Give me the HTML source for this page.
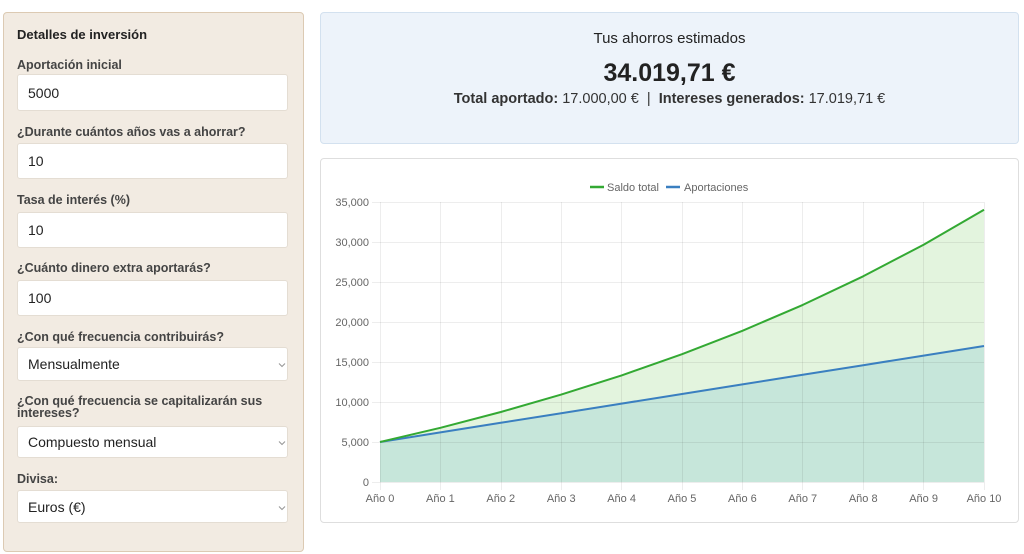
<!DOCTYPE html>
<html>
<head>
<meta charset="utf-8">
<style>
  html,body{margin:0;padding:0;background:#fff;}
  body{width:1024px;height:554px;position:relative;overflow:hidden;font-family:"Liberation Sans",Arial,sans-serif;}
  .panel{position:absolute;left:3px;top:12px;width:299px;height:538px;background:#f2ebe2;border:1px solid #dccab3;border-radius:4px;}
  .t{position:absolute;white-space:nowrap;color:#333;}
  .lbl{position:absolute;left:17px;font-size:12.5px;font-weight:bold;color:#444;white-space:nowrap;line-height:12px;}
  .inp{position:absolute;left:17px;width:271px;background:#fff;border:1px solid #e4ddd3;border-radius:3px;box-sizing:border-box;}
  .inp span{position:absolute;left:10px;font-size:14px;color:#222;}
  .chev{position:absolute;left:260px;width:8px;height:6px;}
  .sum{position:absolute;left:320px;top:12px;width:697px;height:130px;background:#edf3fa;border:1px solid #d3e1ef;border-radius:4px;}
  .card{position:absolute;left:320px;top:158px;width:697px;height:363px;background:#fff;border:1px solid #dedede;border-radius:4px;}
</style>
</head>
<body>
<div class="panel"></div>
<div class="t" style="left:17px;top:27px;font-size:13px;font-weight:bold;color:#222;">Detalles de inversión</div>

<div class="lbl" style="top:59px;">Aportación inicial</div>
<div class="inp" style="top:74px;height:37px;"><span style="top:10px;">5000</span></div>

<div class="lbl" style="top:126px;">¿Durante cuántos años vas a ahorrar?</div>
<div class="inp" style="top:143px;height:36px;"><span style="top:9px;">10</span></div>

<div class="lbl" style="top:194px;">Tasa de interés (%)</div>
<div class="inp" style="top:212px;height:36px;"><span style="top:9px;">10</span></div>

<div class="lbl" style="top:262px;">¿Cuánto dinero extra aportarás?</div>
<div class="inp" style="top:280px;height:36px;"><span style="top:9px;">100</span></div>

<div class="lbl" style="top:331px;">¿Con qué frecuencia contribuirás?</div>
<div class="inp" style="top:347px;height:34px;"><span style="top:8px;">Mensualmente</span><svg class="chev" style="top:14px;" viewBox="0 0 8 6"><polyline points="1,1.5 4,4.5 7,1.5" fill="none" stroke="#999" stroke-width="1.1"/></svg></div>

<div class="lbl" style="top:396px;line-height:11.5px;">¿Con qué frecuencia se capitalizarán sus<br>intereses?</div>
<div class="inp" style="top:426px;height:32px;"><span style="top:7px;">Compuesto mensual</span><svg class="chev" style="top:13px;" viewBox="0 0 8 6"><polyline points="1,1.5 4,4.5 7,1.5" fill="none" stroke="#999" stroke-width="1.1"/></svg></div>

<div class="lbl" style="top:473px;">Divisa:</div>
<div class="inp" style="top:490px;height:33px;"><span style="top:8px;">Euros (€)</span><svg class="chev" style="top:14px;" viewBox="0 0 8 6"><polyline points="1,1.5 4,4.5 7,1.5" fill="none" stroke="#999" stroke-width="1.1"/></svg></div>

<div class="sum"></div>
<div class="t" style="left:320px;width:699px;text-align:center;top:30px;font-size:15px;color:#222;">Tus ahorros estimados</div>
<div class="t" style="left:320px;width:699px;text-align:center;top:59px;font-size:25px;font-weight:bold;color:#222;">34.019,71 €</div>
<div class="t" style="left:320px;width:699px;text-align:center;top:91px;font-size:14.5px;color:#333;"><b>Total aportado:</b> 17.000,00 € &nbsp;|&nbsp; <b>Intereses generados:</b> 17.019,71 €</div>

<div class="card"></div>

<svg width="1024" height="554" style="position:absolute;left:0;top:0;" xmlns="http://www.w3.org/2000/svg">
  <polygon fill="#e3f4de" points="380,442 440.4,427.8 500.8,412.0 561.2,394.6 621.6,375.4 682,354.2 742.4,330.8 802.8,304.9 863.2,276.3 923.6,244.7 984,209.8 984,482 380,482"/>
  <polygon fill="#c6e6da" points="380,442 440.4,432.4 500.8,422.8 561.2,413.2 621.6,403.6 682,394 742.4,384.4 802.8,374.8 863.2,365.2 923.6,355.6 984,346 984,482 380,482"/>
  <g stroke="#000" stroke-opacity="0.07" stroke-width="1">
    <line x1="372" y1="202.5" x2="984" y2="202.5"/>
    <line x1="372" y1="242.5" x2="984" y2="242.5"/>
    <line x1="372" y1="282.5" x2="984" y2="282.5"/>
    <line x1="372" y1="322.5" x2="984" y2="322.5"/>
    <line x1="372" y1="362.5" x2="984" y2="362.5"/>
    <line x1="372" y1="402.5" x2="984" y2="402.5"/>
    <line x1="372" y1="442.5" x2="984" y2="442.5"/>
    <line x1="372" y1="482.5" x2="984" y2="482.5"/>
    <line x1="380.5" y1="202" x2="380.5" y2="490"/>
    <line x1="440.5" y1="202" x2="440.5" y2="490"/>
    <line x1="501.5" y1="202" x2="501.5" y2="490"/>
    <line x1="561.5" y1="202" x2="561.5" y2="490"/>
    <line x1="621.5" y1="202" x2="621.5" y2="490"/>
    <line x1="682.5" y1="202" x2="682.5" y2="490"/>
    <line x1="742.5" y1="202" x2="742.5" y2="490"/>
    <line x1="802.5" y1="202" x2="802.5" y2="490"/>
    <line x1="863.5" y1="202" x2="863.5" y2="490"/>
    <line x1="923.5" y1="202" x2="923.5" y2="490"/>
    <line x1="984.5" y1="202" x2="984.5" y2="490"/>
  </g>
  <polyline fill="none" stroke="#3a7fc0" stroke-width="2" points="380,442 440.4,432.4 500.8,422.8 561.2,413.2 621.6,403.6 682,394 742.4,384.4 802.8,374.8 863.2,365.2 923.6,355.6 984,346"/>
  <polyline fill="none" stroke="#33a933" stroke-width="2" stroke-linejoin="round" points="380,442 440.4,427.8 500.8,412.0 561.2,394.6 621.6,375.4 682,354.2 742.4,330.8 802.8,304.9 863.2,276.3 923.6,244.7 984,209.8"/>
  <g font-family="Liberation Sans, Arial, sans-serif" font-size="11" fill="#666" text-anchor="end">
    <text x="369" y="206">35,000</text>
    <text x="369" y="246">30,000</text>
    <text x="369" y="286">25,000</text>
    <text x="369" y="326">20,000</text>
    <text x="369" y="366">15,000</text>
    <text x="369" y="406">10,000</text>
    <text x="369" y="446">5,000</text>
    <text x="369" y="486">0</text>
  </g>
  <g font-family="Liberation Sans, Arial, sans-serif" font-size="11" fill="#666" text-anchor="middle">
    <text x="380" y="502">Año 0</text>
    <text x="440.4" y="502">Año 1</text>
    <text x="500.8" y="502">Año 2</text>
    <text x="561.2" y="502">Año 3</text>
    <text x="621.6" y="502">Año 4</text>
    <text x="682" y="502">Año 5</text>
    <text x="742.4" y="502">Año 6</text>
    <text x="802.8" y="502">Año 7</text>
    <text x="863.2" y="502">Año 8</text>
    <text x="923.6" y="502">Año 9</text>
    <text x="984" y="502">Año 10</text>
  </g>
  <line x1="590" y1="187" x2="604" y2="187" stroke="#33a933" stroke-width="2.5"/>
  <text x="607" y="191" font-family="Liberation Sans, Arial, sans-serif" font-size="11" fill="#666">Saldo total</text>
  <line x1="666" y1="187" x2="680" y2="187" stroke="#3a7fc0" stroke-width="2.5"/>
  <text x="684" y="191" font-family="Liberation Sans, Arial, sans-serif" font-size="11" fill="#666">Aportaciones</text>
</svg>
</body>
</html>
